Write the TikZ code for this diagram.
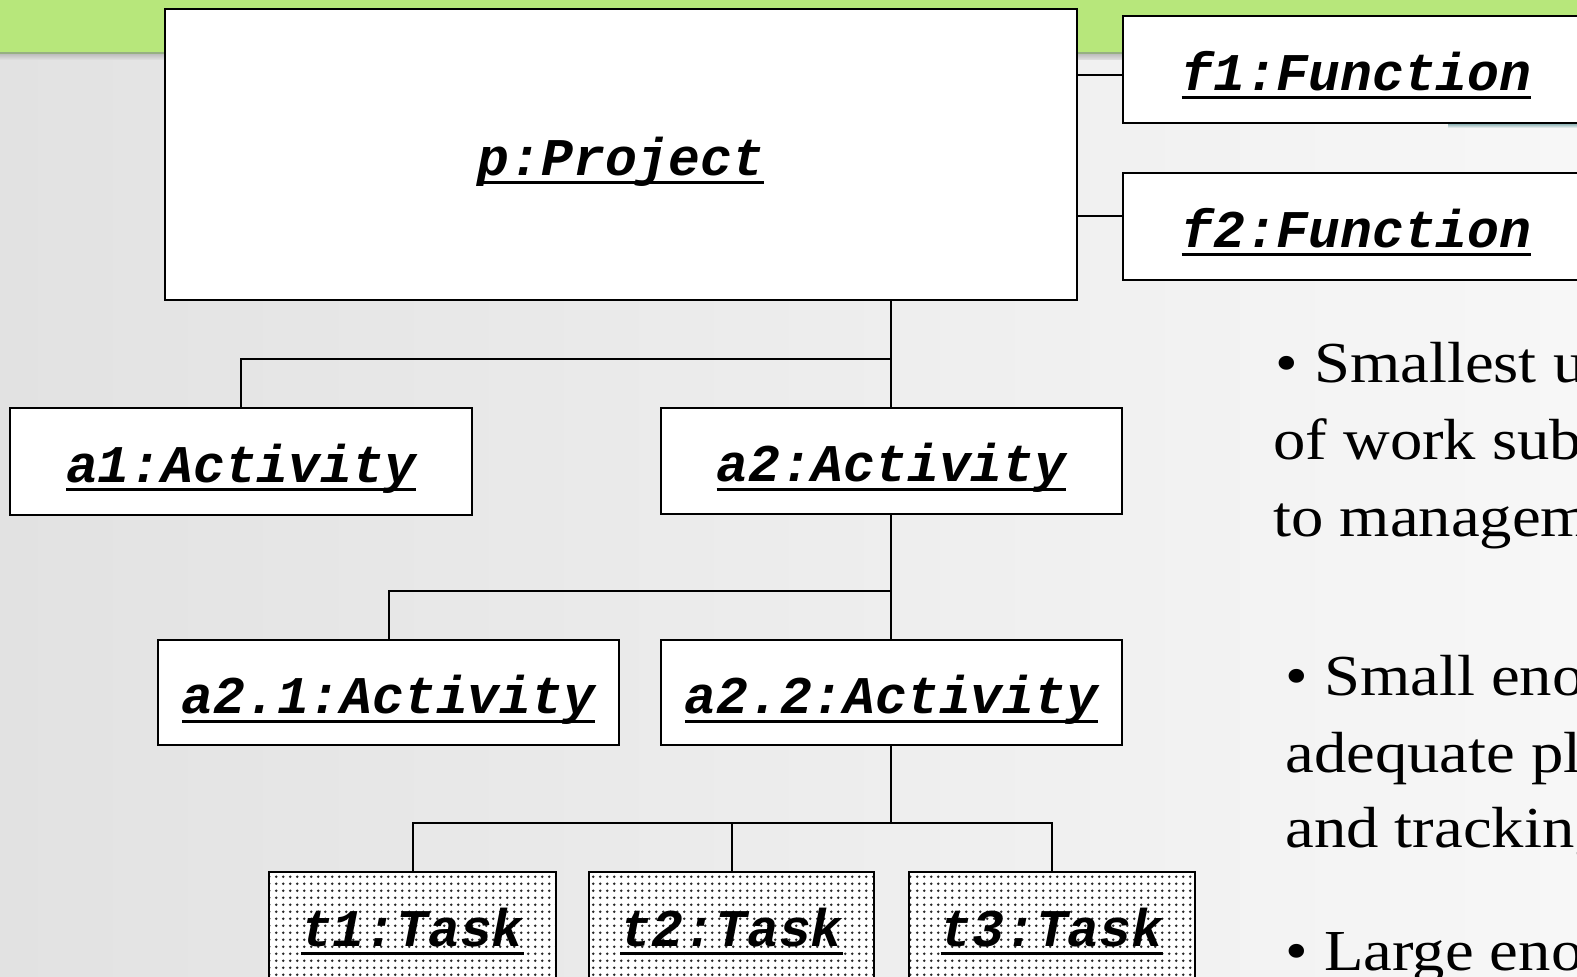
\documentclass[tikz,border=0pt]{standalone}
\usepackage{fontspec}
\setmainfont{Liberation Serif}
\newfontfamily\notefont{Liberation Serif}[FakeStretch=1.115]
\newfontfamily\objfont{Liberation Mono}
\usetikzlibrary{patterns.meta}

\definecolor{bandgreen}{RGB}{183,231,123}
\definecolor{bandedge}{RGB}{150,176,130}
\definecolor{bgleft}{RGB}{226,226,226}
\definecolor{bgright}{RGB}{247,247,247}
\definecolor{tealshadow}{RGB}{120,165,168}

% underlined object name, rule as wide as the text
\newcommand\objul[1]{\setbox0=\hbox{#1}\rlap{\rule[-4.5pt]{\wd0}{1.5pt}}\box0}

\tikzdeclarepattern{
  name=stipple,
  type=uncolored,
  bounding box={(0pt,0pt) and (3.6pt,3.6pt)},
  tile size={(3.6pt,3.6pt)},
  code={\fill (1.8pt,1.8pt) circle (0.75pt);}
}

\tikzset{
  objbox/.style={draw=black, line width=1.4pt, fill=white, inner sep=0pt,
    text height=30pt, text depth=9pt,
    font=\objfont\bfseries\itshape\fontsize{26.5}{30}\selectfont},
  taskbox/.style={objbox, preaction={fill=white}, pattern=stipple, pattern color=black!85},
  link/.style={line width=1pt, draw=black},
  bullettext/.style={anchor=base west, inner sep=0pt,
    font=\notefont\fontsize{29}{38}\selectfont}
}

\begin{document}
\begin{tikzpicture}[x=0.5pt,y=-0.5pt]
\useasboundingbox (0,0) rectangle (1577,977);
\clip (0,0) rectangle (1577,977);

% slide background and header band
\shade[left color=bgleft, right color=bgright] (0,0) rectangle (1577,977);
\shade[top color=black!28, bottom color=bgleft] (0,53) rectangle (1577,60);
\fill[bandgreen] (0,0) rectangle (1577,53);
\draw[bandedge, line width=0.8pt] (0,53) -- (1577,53);
\shade[top color=tealshadow, bottom color=bgright] (1448,123) rectangle (1577,128);

% object boxes
\node[objbox, minimum width=456pt, minimum height=145.5pt] (proj) at (621,154.5) {\objul{p:Project}};
\node[objbox, minimum width=233.5pt, minimum height=53.5pt] (f1) at (1356.5,69.5) {\objul{f1:Function}};
\node[objbox, minimum width=233.5pt, minimum height=53.5pt] (f2) at (1356.5,226.5) {\objul{f2:Function}};

\node[objbox, minimum width=231pt, minimum height=53.5pt] (a1) at (241,461.5) {\objul{a1:Activity}};
\node[objbox, minimum width=230.5pt, minimum height=53pt] (a2) at (891.5,461) {\objul{a2:Activity}};
\node[objbox, minimum width=230.5pt, minimum height=52.5pt] (a21) at (388.5,692.5) {\objul{a2.1:Activity}};
\node[objbox, minimum width=230.5pt, minimum height=52.5pt] (a22) at (891.5,692.5) {\objul{a2.2:Activity}};

\node[taskbox, minimum width=143.5pt, minimum height=53pt] (t1) at (412.5,925) {\objul{t1:Task}};
\node[taskbox, minimum width=142.5pt, minimum height=53pt] (t2) at (731.5,925) {\objul{t2:Task}};
\node[taskbox, minimum width=143pt, minimum height=53pt] (t3) at (1052,925) {\objul{t3:Task}};

% tree junctions
\coordinate (j1) at (891,359);
\coordinate (j2) at (891,591);
\coordinate (j3) at (891,823);
\coordinate (c1) at (1100,75);
\coordinate (c2) at (1100,216);

% connectors
\draw[link] (c1 -| proj.east) -- (c1 -| f1.west);
\draw[link] (c2 -| proj.east) -- (c2 -| f2.west);
\draw[link] (proj.south -| j1) -- (a2.north -| j1);
\draw[link] (a1.north) |- (j1);
\draw[link] (a2.south -| j2) -- (a22.north -| j2);
\draw[link] (a21.north) |- (j2);
\draw[link] (a22.south -| j3) -- (j3);
\draw[link] (t1.north) |- (t3.north |- j3) -- (t3.north);
\draw[link] (t2.north) -- (t2.north |- j3);

% side notes
\node[bullettext] (n1) at (1275,383) {• Smallest u};
\node[bullettext] (n2) at (1273,460) {of work subj};
\node[bullettext] (n3) at (1273,537) {to managem};
\node[bullettext] (n4) at (1285,695) {• Small eno};
\node[bullettext] (n5) at (1285,772) {adequate pl};
\node[bullettext] (n6) at (1285,847) {and tracking};
\node[bullettext] (n7) at (1285,970) {• Large eno};
\end{tikzpicture}
\end{document}
